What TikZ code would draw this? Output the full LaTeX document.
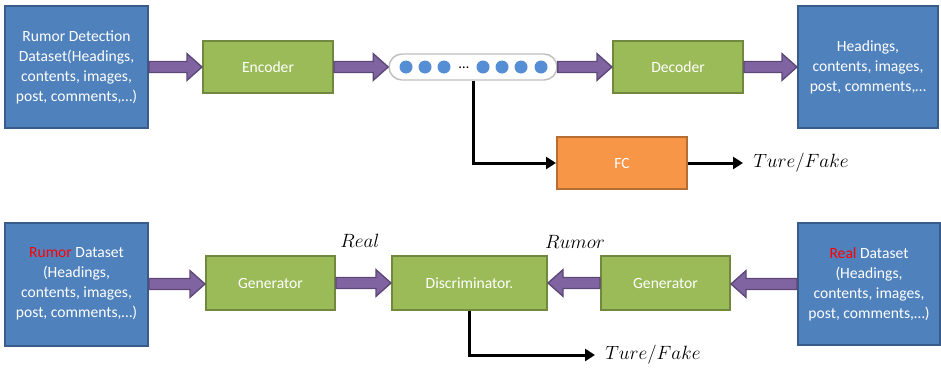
\documentclass[tikz,border=0pt]{standalone}
\usepackage{fontspec}
\setmainfont{Carlito}
\usetikzlibrary{arrows.meta,calc}
\definecolor{bluef}{HTML}{4F81BD}
\definecolor{blued}{HTML}{385D8A}
\definecolor{greenf}{HTML}{9BBB59}
\definecolor{greend}{HTML}{71893F}
\definecolor{orangef}{HTML}{F79646}
\definecolor{oranged}{HTML}{B66D31}
\definecolor{purplef}{HTML}{8064A2}
\definecolor{purpled}{HTML}{5C4776}
\definecolor{dotf}{HTML}{558ED5}
\definecolor{pillb}{HTML}{BFBFBF}
\definecolor{redt}{HTML}{FF0000}
\tikzset{
  box/.style={draw, line width=1.5pt, text=white, align=center, inner sep=0pt,
    font=\fontsize{11.7}{15}\selectfont},
  databox/.style={box, fill=bluef, draw=blued},
  procbox/.style={box, fill=greenf, draw=greend, minimum width=97.5pt, minimum height=39pt},
  fcbox/.style={box, fill=orangef, draw=oranged, minimum width=97.5pt, minimum height=39pt},
  fatarr/.style={fill=purplef, draw=purpled, line width=1pt, line join=miter},
  blk/.style={draw=black, line width=2.25pt, -{Triangle[length=7.5pt,width=9pt]}},
  mlabel/.style={font=\fontsize{14.8}{17}\selectfont, inner sep=0pt},
  outlabel/.style={mlabel, anchor=west, inner xsep=7.5pt},
  dotc/.style={circle, fill=dotf, minimum size=9.75pt, inner sep=0pt},
}
\newcommand\fatarrow[2]{%
  \path[fatarr] let \p1=(#1), \p2=(#2), \p3=($(#2)!11.25pt!(#1)$) in
    (\x1,\y1+4.1pt) -- (\x3,\y1+4.1pt) -- (\x3,\y1+10pt) -- (\x2,\y1)
    -- (\x3,\y1-10pt) -- (\x3,\y1-4.1pt) -- (\x1,\y1-4.1pt) -- cycle;}
\begin{document}
\begin{tikzpicture}[x=0.75pt,y=-0.75pt]
\useasboundingbox (0,0) rectangle (941,368);
% top row
\node[databox, minimum width=107.25pt, minimum height=91.5pt] (ds1) at (76.5,67)
  {Rumor Detection\\Dataset(Headings,\\contents, images,\\post, comments,…)};
\node[procbox] (enc) at (268,67) {Encoder};
\node[draw=pillb, line width=1.1pt, fill=white, rounded corners=9.75pt,
  minimum width=126pt, minimum height=19.5pt, inner sep=0pt] (pill) at (473,67) {};
\foreach \i/\xx in {1/406,2/425,3/444,4/483,5/502,6/521,7/541}
  \node[dotc] (d\i) at (\xx,67) {};
\node[inner sep=0pt, font=\fontsize{11}{12}\selectfont] (ell) at (464,68) {…};
\node[procbox] (dec) at (678,67) {Decoder};
\node[databox, minimum width=105pt, minimum height=91.5pt] (ds2) at (868,67)
  {Headings,\\contents, images,\\post, comments,…};
\node[fcbox] (fc) at (622,163) {FC};
\node[outlabel] (tf1) at (743,163) {$Ture/Fake$};
\fatarrow{ds1.east}{enc.west}
\fatarrow{enc.east}{pill.west}
\fatarrow{pill.east}{dec.west}
\fatarrow{dec.east}{ds2.west}
\draw[blk] (pill.south) |- (fc.west);
\draw[blk] (fc.east) -- (tf1.west);
% bottom row
\node[databox, minimum width=107.25pt, minimum height=92.25pt] (ds3) at (76.5,284)
  {\textcolor{redt}{Rumor} Dataset\\(Headings,\\contents, images,\\post, comments,…)};
\node[procbox, minimum width=96.75pt, minimum height=40.5pt] (gen1) at (270.5,283) {Generator};
\node[procbox, minimum width=116.25pt, minimum height=40.5pt] (disc) at (469.5,283) {Discriminator.};
\node[procbox, minimum width=96.75pt, minimum height=40.5pt] (gen2) at (665.5,283) {Generator};
\node[databox, minimum width=106.5pt, minimum height=91.5pt] (ds4) at (869,284)
  {\textcolor{redt}{Real} Dataset\\(Headings,\\contents, images,\\post, comments,…)};
\node[mlabel] (lreal) at (360,241) {$Real$};
\node[mlabel] (lrumor) at (575,242) {$Rumor$};
\node[outlabel] (tf2) at (595,355) {$Ture/Fake$};
\fatarrow{ds3.east}{gen1.west}
\fatarrow{gen1.east}{disc.west}
\fatarrow{gen2.west}{disc.east}
\fatarrow{ds4.west}{gen2.east}
\draw[blk] (disc.south) |- (tf2.west);
\end{tikzpicture}
\end{document}
